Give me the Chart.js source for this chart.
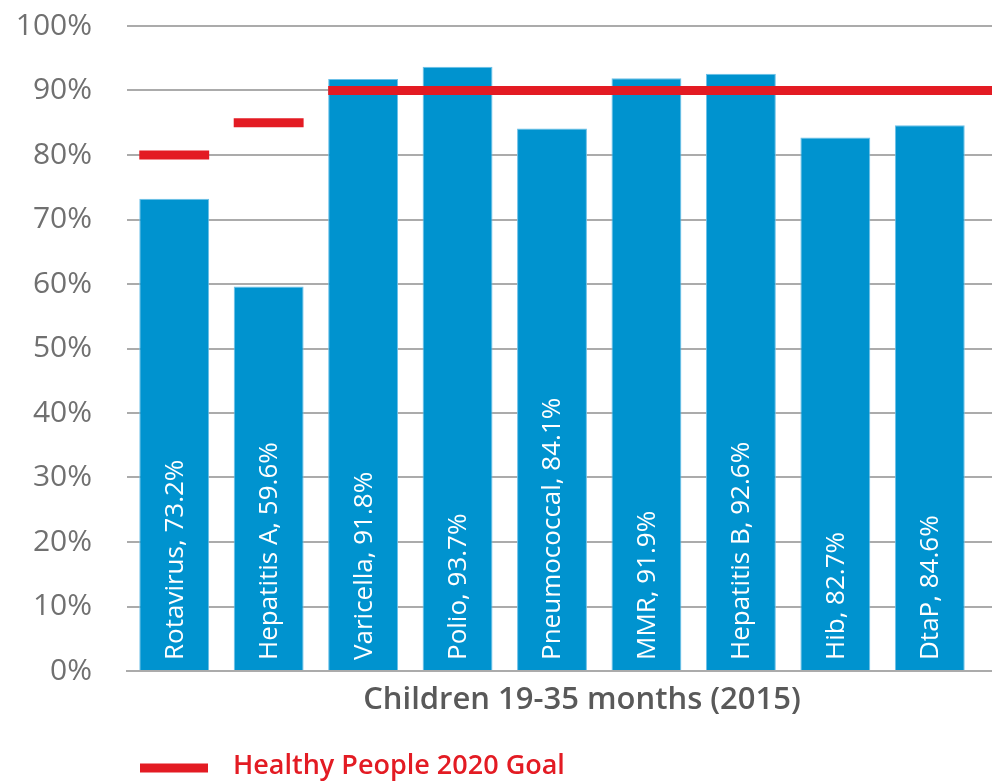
<!DOCTYPE html>
<html>
<head>
<meta charset="utf-8">
<script src="https://cdn.jsdelivr.net/npm/chart.js@4/dist/chart.umd.min.js"></script>
<style>
  html, body { margin: 0; padding: 0; background: #fff; }
  #wrap { width: 992px; height: 783px; position: relative; }
</style>
</head>
<body>
<div id="wrap"><canvas id="vaxChart"></canvas></div>
<script>
// data
const vaccines = ['Rotavirus', 'Hepatitis A', 'Varicella', 'Polio', 'Pneumococcal', 'MMR', 'Hepatitis B', 'Hib', 'DtaP'];
const coverage = [73.2, 59.6, 91.8, 93.7, 84.1, 91.9, 92.6, 82.7, 84.6];
const goals = [80, 85, 90, 90, 90, 90, 90, 90, 90];
const yTicks = [0, 10, 20, 30, 40, 50, 60, 70, 80, 90, 100];
const axisTitle = 'Children 19-35 months (2015)';
const goalLabel = 'Healthy People 2020 Goal';

const BLUE = '#0093cf';
const RED = '#e31b23';
const GRID = '#ababab';
const FONT = "'Open Sans', sans-serif";

// teks di dalam batang, garis target, judul dan legenda
const overlay = {
    id: 'overlay',
    afterDatasetsDraw(chart) {
        const ctx = chart.ctx;
        const y = chart.scales.y;
        const area = chart.chartArea;
        const bars = chart.getDatasetMeta(0).data;

        ctx.save();
        // garis grid diteruskan sampai tepi kanan
        ctx.strokeStyle = GRID;
        ctx.lineWidth = 2;
        yTicks.forEach(t => {
            const py = Math.round(y.getPixelForValue(t));
            ctx.beginPath();
            ctx.moveTo(area.right, py);
            ctx.lineTo(chart.width, py);
            ctx.stroke();
        });

        // label vertikal putih
        ctx.fillStyle = '#fff';
        ctx.font = '26px ' + FONT;
        ctx.textAlign = 'left';
        ctx.textBaseline = 'middle';
        bars.forEach((b, i) => {
            ctx.save();
            ctx.translate(b.x + 1, area.bottom - 11);
            ctx.rotate(-Math.PI / 2);
            ctx.fillText(vaccines[i] + ', ' + coverage[i] + '%', 0, 0);
            ctx.restore();
        });

        // garis target Healthy People 2020
        ctx.strokeStyle = RED;
        ctx.lineWidth = 9;
        let i = 0;
        while (i < bars.length) {
            let j = i;
            while (j + 1 < bars.length && goals[j + 1] === goals[i]) j++;
            const x0 = bars[i].x - bars[i].width / 2;
            const x1 = (j > i && j === bars.length - 1) ? chart.width : bars[j].x + bars[j].width / 2;
            const py = y.getPixelForValue(goals[i]);
            ctx.beginPath();
            ctx.moveTo(x0, py);
            ctx.lineTo(x1, py);
            ctx.stroke();
            i = j + 1;
        }
        ctx.restore();
    },
    afterDraw(chart) {
        const ctx = chart.ctx;
        ctx.save();
        ctx.textBaseline = 'middle';
        ctx.textAlign = 'center';
        ctx.fillStyle = '#595959';
        ctx.font = '600 31px ' + FONT;
        ctx.fillText(axisTitle, 582, 700);

        ctx.strokeStyle = RED;
        ctx.lineWidth = 9;
        ctx.beginPath();
        ctx.moveTo(140, 768);
        ctx.lineTo(208, 768);
        ctx.stroke();

        ctx.textAlign = 'left';
        ctx.fillStyle = RED;
        ctx.font = '600 27px ' + FONT;
        ctx.fillText(goalLabel, 233, 766);
        ctx.restore();
    }
};

document.addEventListener('DOMContentLoaded', function() {
    const ctx = document.getElementById('vaxChart').getContext('2d');

    const data = {
        labels: vaccines,
        datasets: [{
            label: 'Coverage',
            data: coverage,
            backgroundColor: BLUE,
            borderColor: '#6cc0e8',
            borderWidth: 1,
            barPercentage: 0.74,
            categoryPercentage: 1
        }]
    };

    const config = {
        type: 'bar',
        data: data,
        options: {
            responsive: true,
            maintainAspectRatio: false,
            animation: false,
            layout: {
                padding: { top: 26, right: 15, bottom: 104, left: 0 }
            },
            plugins: {
                legend: { display: false },
                tooltip: { enabled: false }
            },
            scales: {
                x: {
                    ticks: { display: false },
                    grid: { display: false },
                    border: { display: true, color: GRID, width: 2 }
                },
                y: {
                    min: 0,
                    max: 100,
                    afterBuildTicks: scale => {
                        scale.ticks = yTicks.map(v => ({ value: v }));
                    },
                    afterFit: scale => {
                        scale.width = 127;
                        scale.paddingTop = 0;
                    },
                    ticks: {
                        padding: 35,
                        color: '#707070',
                        font: { family: FONT, size: 30 },
                        callback: v => v + '%'
                    },
                    grid: { color: GRID, lineWidth: 2, drawTicks: false },
                    border: { display: false }
                }
            }
        },
        plugins: [overlay]
    };

    new Chart(ctx, config);
});
</script>
</body>
</html>
